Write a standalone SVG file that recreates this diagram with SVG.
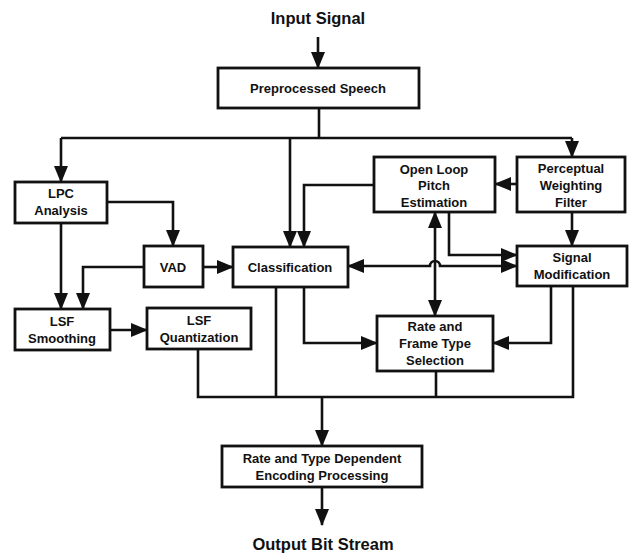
<svg xmlns="http://www.w3.org/2000/svg" width="630" height="553" viewBox="0 0 630 553">
<style>
.box{fill:#fff;stroke:#111;stroke-width:2.8}
.t{font-family:"Liberation Sans",Arial,sans-serif;font-weight:bold;font-size:13px;text-anchor:middle;fill:#111}
.big{font-size:16.5px}
.c{fill:none;stroke:#111;stroke-width:2.6}
.a{marker-end:url(#ah)}
.d{marker-end:url(#ah);marker-start:url(#ah)}
</style>
<defs>
<marker id="ah" markerUnits="userSpaceOnUse" markerWidth="17" markerHeight="14" refX="16" refY="7" orient="auto-start-reverse">
<path d="M0,0 L17,7 L0,14 z" fill="#111"/>
</marker>
</defs>
<rect width="630" height="553" fill="#fff"/>
<text class="t big" x="318" y="24">Input Signal</text>
<text class="t big" x="323" y="550">Output Bit Stream</text>
<g id="connectors">
<path class="c a" d="M318,37 V68"/>
<path class="c" d="M319,108 V138 M61,138 H572"/>
<path class="c a" d="M61,138 V182"/>
<path class="c a" d="M572,138 V157"/>
<path class="c a" d="M290,138 V247"/>
<path class="c a" d="M374,185 H304 V247"/>
<path class="c a" d="M107,202 H173 V246"/>
<path class="c a" d="M61,223 V309"/>
<path class="c a" d="M144,267 H83 V309"/>
<path class="c a" d="M203,267 H233"/>
<path class="c a" d="M110,330 H147"/>
<path class="c a" d="M517,184 H495"/>
<path class="c a" d="M572,212 V246"/>
<path class="c a" d="M449,212 V255 H517"/>
<path class="c d" d="M348,266 H430 A5,5 0 0 1 440,266 H517"/>
<path class="c d" d="M435,212 V316"/>
<path class="c a" d="M304,287 V343 H377"/>
<path class="c a" d="M551,286 V343 H493"/>
<path class="c" d="M198,349 V397 H573 V286 M276,287 V397 M436,371 V397"/>
<path class="c a" d="M322,397 V446"/>
<path class="c a" d="M322,487 V525"/>
</g>
<g id="pre"><rect class="box" x="218" y="68" width="201" height="40"/><text class="t" x="318" y="93">Preprocessed Speech</text></g>
<g id="lpc"><rect class="box" x="15" y="182" width="92" height="41"/><text class="t" x="61" y="198">LPC</text><text class="t" x="61" y="215">Analysis</text></g>
<g id="vad"><rect class="box" x="144" y="246" width="59" height="41"/><text class="t" x="173" y="272">VAD</text></g>
<g id="cls"><rect class="box" x="233" y="247" width="115" height="40"/><text class="t" x="290" y="272">Classification</text></g>
<g id="olp"><rect class="box" x="374" y="157" width="121" height="55"/><text class="t" x="434" y="174">Open Loop</text><text class="t" x="434" y="190">Pitch</text><text class="t" x="434" y="207">Estimation</text></g>
<g id="pwf"><rect class="box" x="517" y="157" width="108" height="55"/><text class="t" x="571" y="173">Perceptual</text><text class="t" x="571" y="190">Weighting</text><text class="t" x="571" y="207">Filter</text></g>
<g id="sig"><rect class="box" x="517" y="246" width="110" height="40"/><text class="t" x="572" y="262">Signal</text><text class="t" x="572" y="279">Modification</text></g>
<g id="lsfs"><rect class="box" x="15" y="309" width="95" height="41"/><text class="t" x="62" y="326">LSF</text><text class="t" x="62" y="343">Smoothing</text></g>
<g id="lsfq"><rect class="box" x="147" y="308" width="104" height="41"/><text class="t" x="199" y="325">LSF</text><text class="t" x="199" y="342">Quantization</text></g>
<g id="rate"><rect class="box" x="377" y="316" width="116" height="55"/><text class="t" x="435" y="331">Rate and</text><text class="t" x="435" y="348">Frame Type</text><text class="t" x="435" y="365">Selection</text></g>
<g id="enc"><rect class="box" x="222" y="446" width="200" height="41"/><text class="t" x="322" y="463">Rate and Type Dependent</text><text class="t" x="322" y="480">Encoding Processing</text></g>
</svg>
